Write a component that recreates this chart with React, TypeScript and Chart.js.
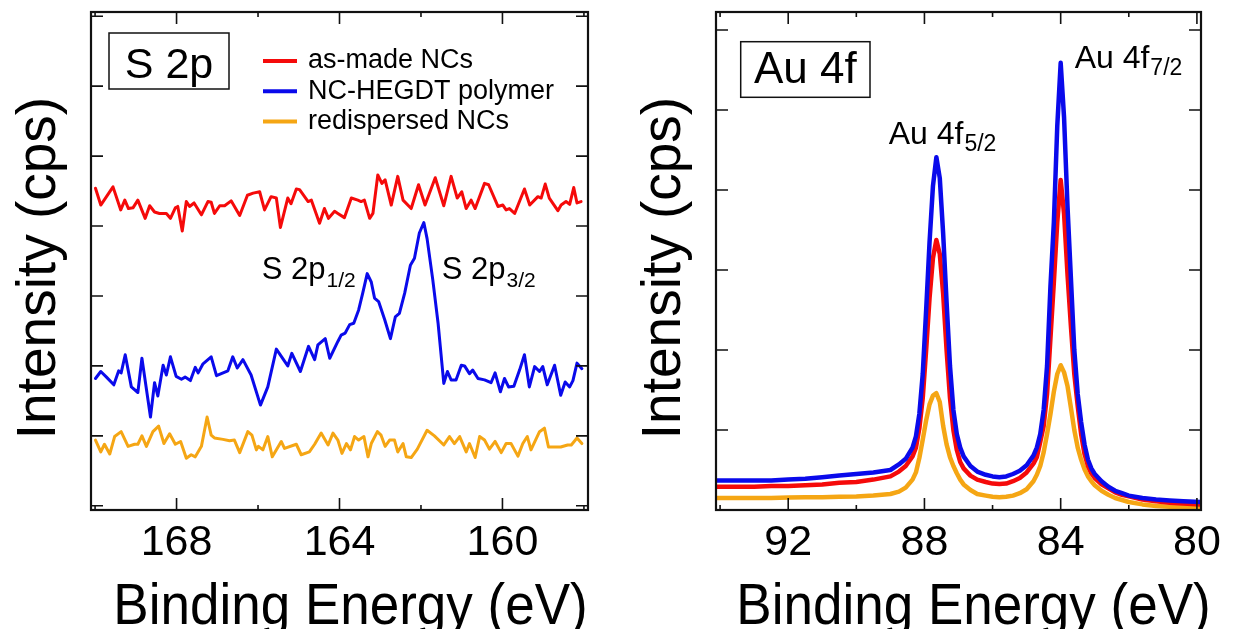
import React, { useEffect, useRef } from 'react';
import { Chart, registerables } from 'chart.js';

Chart.register(...registerables);

const FONT = '"Liberation Sans", Arial, Helvetica, sans-serif';
const RED = '#f50a0a';
const BLUE = '#0a0aeb';
const ORANGE = '#f5a614';

const X_TITLE = 'Binding Energy (eV)';
const Y_TITLE = 'Intensity (cps)';

// ---------- S 2p panel ----------
const S2P_X_TICKS = [168, 164, 160];
const S2P_X_MINOR = [170, 166, 162, 158];
const S2P_Y_TICKS = [0, 1, 2, 3, 4, 5, 6, 7];

const S_ASMADE_BE = [169.99, 169.86, 169.56, 169.37, 169.27, 169.18, 169.07, 168.95, 168.77, 168.66, 168.54, 168.42, 168.25, 168.15, 168.03, 167.97, 167.86, 167.76, 167.68, 167.57, 167.39, 167.23, 167.15, 167.07, 166.94, 166.82, 166.66, 166.45, 166.26, 166.12, 165.96, 165.84, 165.68, 165.55, 165.45, 165.27, 165.19, 165.06, 164.98, 164.77, 164.69, 164.49, 164.37, 164.27, 164.12, 164.04, 163.88, 163.71, 163.55, 163.47, 163.39, 163.26, 163.18, 163.06, 162.96, 162.88, 162.73, 162.57, 162.44, 162.24, 162.06, 161.9, 161.65, 161.44, 161.26, 161.11, 161.0, 160.89, 160.77, 160.67, 160.44, 160.34, 160.11, 159.99, 159.91, 159.83, 159.7, 159.46, 159.33, 159.13, 159.05, 158.95, 158.85, 158.64, 158.56, 158.44, 158.35, 158.25, 158.17, 158.07];
const S_ASMADE_CPS = [4.54, 4.3, 4.56, 4.23, 4.37, 4.25, 4.26, 4.37, 4.11, 4.29, 4.2, 4.18, 4.18, 4.11, 4.26, 4.28, 3.93, 4.35, 4.28, 4.33, 4.16, 4.35, 4.34, 4.18, 4.29, 4.29, 4.36, 4.15, 4.44, 4.47, 4.49, 4.23, 4.42, 4.4, 3.98, 4.4, 4.32, 4.53, 4.52, 4.35, 4.37, 4.04, 4.25, 4.11, 4.21, 4.18, 4.12, 4.4, 4.37, 4.35, 4.37, 4.11, 4.18, 4.73, 4.61, 4.66, 4.3, 4.71, 4.37, 4.25, 4.59, 4.3, 4.69, 4.29, 4.71, 4.4, 4.49, 4.25, 4.37, 4.25, 4.61, 4.59, 4.28, 4.3, 4.23, 4.25, 4.18, 4.53, 4.3, 4.42, 4.4, 4.6, 4.4, 4.22, 4.3, 4.35, 4.31, 4.55, 4.33, 4.35];

const S_POLY_BE = [169.99, 169.86, 169.72, 169.54, 169.42, 169.36, 169.26, 169.11, 168.95, 168.85, 168.64, 168.54, 168.46, 168.33, 168.25, 168.15, 168.01, 167.88, 167.79, 167.66, 167.54, 167.47, 167.35, 167.15, 167.02, 166.74, 166.62, 166.51, 166.37, 166.17, 165.94, 165.76, 165.55, 165.27, 165.17, 164.96, 164.76, 164.61, 164.53, 164.35, 164.24, 164.04, 163.96, 163.86, 163.75, 163.65, 163.53, 163.43, 163.32, 163.22, 163.14, 163.04, 162.89, 162.75, 162.63, 162.53, 162.4, 162.26, 162.16, 162.04, 161.93, 161.85, 161.71, 161.58, 161.44, 161.35, 161.26, 161.14, 161.01, 160.93, 160.81, 160.73, 160.6, 160.44, 160.28, 160.18, 160.05, 159.95, 159.85, 159.72, 159.58, 159.46, 159.34, 159.21, 159.09, 159.01, 158.9, 158.72, 158.57, 158.46, 158.35, 158.27, 158.17, 158.05];
const S_POLY_CPS = [1.82, 1.92, 1.84, 1.73, 1.93, 1.9, 2.16, 1.7, 1.62, 2.11, 1.27, 1.76, 1.57, 2.01, 1.87, 2.13, 1.85, 1.81, 1.84, 1.79, 1.98, 1.9, 2.03, 2.13, 1.86, 1.93, 2.13, 1.97, 2.09, 1.87, 1.44, 1.7, 2.24, 2.0, 2.18, 1.92, 2.28, 2.09, 2.3, 2.39, 2.11, 2.35, 2.44, 2.47, 2.59, 2.61, 2.8, 3.04, 3.32, 3.2, 2.97, 2.92, 2.66, 2.39, 2.7, 2.75, 3.04, 3.44, 3.54, 3.9, 4.05, 3.82, 3.23, 2.61, 1.75, 1.92, 1.8, 1.8, 2.01, 2.0, 1.89, 1.94, 1.82, 1.8, 1.76, 1.9, 1.63, 1.82, 1.7, 1.71, 1.94, 2.16, 1.7, 1.99, 1.92, 1.99, 1.73, 2.01, 1.58, 1.77, 1.7, 1.79, 2.04, 1.96];

const S_REDISP_BE = [169.99, 169.86, 169.77, 169.64, 169.52, 169.36, 169.19, 169.03, 168.95, 168.85, 168.74, 168.58, 168.44, 168.31, 168.17, 168.03, 167.9, 167.76, 167.64, 167.54, 167.39, 167.25, 167.15, 167.07, 166.86, 166.7, 166.58, 166.45, 166.25, 166.15, 166.04, 165.99, 165.88, 165.76, 165.65, 165.43, 165.35, 165.06, 164.94, 164.74, 164.61, 164.45, 164.28, 164.16, 164.04, 163.94, 163.83, 163.73, 163.63, 163.53, 163.4, 163.3, 163.22, 163.07, 162.98, 162.88, 162.77, 162.65, 162.57, 162.44, 162.36, 162.24, 162.09, 161.85, 161.67, 161.44, 161.3, 161.18, 161.05, 160.89, 160.81, 160.67, 160.56, 160.44, 160.32, 160.18, 160.03, 159.91, 159.79, 159.62, 159.5, 159.39, 159.3, 159.09, 158.97, 158.87, 158.72, 158.57, 158.4, 158.31, 158.17, 158.05];
const S_REDISP_CPS = [0.94, 0.77, 0.88, 0.74, 0.99, 1.06, 0.85, 0.88, 0.88, 1.0, 0.85, 1.06, 1.14, 0.89, 1.03, 0.88, 0.92, 0.68, 0.73, 0.7, 0.85, 1.27, 1.01, 0.97, 0.95, 0.93, 0.94, 0.76, 1.06, 1.01, 0.8, 0.85, 0.8, 0.99, 0.7, 0.92, 0.82, 0.88, 0.73, 0.77, 0.88, 1.04, 0.87, 1.04, 0.94, 0.75, 0.89, 0.8, 0.99, 0.94, 0.99, 0.7, 0.89, 1.06, 1.01, 0.85, 0.94, 0.94, 0.77, 0.89, 0.7, 0.69, 0.81, 1.08, 1.0, 0.87, 0.99, 0.89, 0.99, 0.77, 0.89, 0.69, 0.99, 0.94, 0.81, 0.92, 0.76, 0.89, 0.89, 0.71, 0.89, 0.99, 0.8, 1.06, 1.11, 0.84, 0.84, 0.84, 0.87, 0.87, 0.97, 0.89];

// ---------- Au 4f panel ----------
const AU_X_TICKS = [92, 88, 84, 80];
const AU_X_MINOR = [94, 90, 86, 82];
const AU_Y_TICKS = [1, 2, 3, 4, 5, 6];

const AU_BE = [94.1, 93.5, 93.0, 92.5, 92.0, 91.5, 91.0, 90.5, 90.0, 89.5, 89.0, 88.75, 88.55, 88.35, 88.25, 88.15, 88.05, 87.95, 87.85, 87.75, 87.65, 87.55, 87.45, 87.35, 87.25, 87.15, 87.05, 86.95, 86.85, 86.65, 86.45, 86.2, 86.0, 85.8, 85.6, 85.4, 85.2, 85.0, 84.8, 84.7, 84.6, 84.5, 84.4, 84.3, 84.2, 84.1, 84.0, 83.9, 83.8, 83.7, 83.6, 83.5, 83.4, 83.3, 83.2, 83.1, 83.0, 82.8, 82.6, 82.4, 82.2, 82.0, 81.6, 81.2, 80.8, 80.4, 79.9];
const AU_ASMADE = [0.29, 0.29, 0.29, 0.3, 0.3, 0.31, 0.32, 0.34, 0.35, 0.38, 0.42, 0.48, 0.55, 0.67, 0.78, 1.02, 1.4, 2.0, 2.65, 3.15, 3.375, 3.2, 2.7, 2.0, 1.4, 1.0, 0.75, 0.6, 0.52, 0.43, 0.38, 0.35, 0.33, 0.325, 0.33, 0.36, 0.4, 0.47, 0.58, 0.66, 0.85, 1.05, 1.45, 2.15, 2.85, 3.6, 4.125, 3.7, 2.95, 2.3, 1.7, 1.3, 0.95, 0.7, 0.55, 0.46, 0.4, 0.32, 0.27, 0.22, 0.19, 0.17, 0.13, 0.11, 0.09, 0.08, 0.07];
const AU_POLY = [0.37, 0.37, 0.37, 0.37, 0.38, 0.39, 0.41, 0.43, 0.45, 0.47, 0.5, 0.57, 0.64, 0.78, 0.92, 1.2, 1.7, 2.5, 3.35, 4.05, 4.41, 4.15, 3.45, 2.6, 1.8, 1.25, 0.95, 0.78, 0.67, 0.55, 0.48, 0.44, 0.42, 0.41, 0.42, 0.45, 0.49, 0.56, 0.68, 0.78, 0.95, 1.25, 1.8, 2.8, 3.6, 4.8, 5.59, 4.9, 3.8, 2.9, 2.0, 1.45, 1.1, 0.82, 0.63, 0.52, 0.45, 0.36, 0.29, 0.24, 0.21, 0.18, 0.15, 0.13, 0.12, 0.11, 0.1];
const AU_REDISP = [0.15, 0.15, 0.15, 0.15, 0.155, 0.16, 0.16, 0.165, 0.17, 0.18, 0.2, 0.23, 0.28, 0.38, 0.47, 0.65, 0.88, 1.12, 1.32, 1.43, 1.46, 1.35, 1.05, 0.82, 0.66, 0.55, 0.46, 0.38, 0.32, 0.25, 0.2, 0.18, 0.165, 0.16, 0.165, 0.18, 0.21, 0.26, 0.36, 0.44, 0.55, 0.72, 0.95, 1.2, 1.48, 1.7, 1.81, 1.72, 1.55, 1.28, 1.0, 0.78, 0.63, 0.51, 0.42, 0.36, 0.31, 0.24, 0.19, 0.15, 0.125, 0.1, 0.07, 0.05, 0.04, 0.035, 0.03];

const LEGEND_LABELS = ['as-made NCs', 'NC-HEGDT polymer', 'redispersed NCs'];

const pts = (be: number[], v: number[]) => be.map((x, i) => ({ x, y: v[i] }));

function makeFrame(cfg: { xMajor: number[]; xMinor: number[]; yTicks: number[]; major: number; minor: number }) {
  return {
    id: 'frame',
    afterDatasetsDraw(chart: any) {
      const { ctx, chartArea: a, scales } = chart;
      const x = scales.x;
      const y = scales.y;
      ctx.save();
      ctx.strokeStyle = '#111';
      ctx.lineWidth = 1.6;
      ctx.beginPath();
      const xt = (v: number, len: number) => {
        const px = x.getPixelForValue(v);
        ctx.moveTo(px, a.bottom);
        ctx.lineTo(px, a.bottom - len);
        ctx.moveTo(px, a.top);
        ctx.lineTo(px, a.top + len);
      };
      cfg.xMajor.forEach((v) => xt(v, cfg.major));
      cfg.xMinor.forEach((v) => xt(v, cfg.minor));
      cfg.yTicks.forEach((v) => {
        const py = y.getPixelForValue(v);
        ctx.moveTo(a.left, py);
        ctx.lineTo(a.left + cfg.major, py);
        ctx.moveTo(a.right, py);
        ctx.lineTo(a.right - cfg.major, py);
      });
      ctx.stroke();
      ctx.lineWidth = 2.2;
      ctx.strokeRect(a.left, a.top, a.right - a.left, a.bottom - a.top);
      ctx.restore();
    },
  };
}

// axis titles, placed like the original figure (slightly off the axis centre)
function makeTitles(cfg: { xShift: number }) {
  return {
    id: 'axisTitles',
    afterDraw(chart: any) {
      const { ctx, chartArea: a } = chart;
      ctx.save();
      ctx.fillStyle = '#000';
      ctx.textBaseline = 'alphabetic';
      ctx.textAlign = 'center';
      ctx.font = `53px ${FONT}`;
      ctx.save();
      ctx.translate((a.left + a.right) / 2 + cfg.xShift, a.bottom + 113.5);
      ctx.scale(1, 1.08);
      ctx.fillText(X_TITLE, 0, 0);
      ctx.restore();
      ctx.translate(a.left - 36, 268);
      ctx.rotate(-Math.PI / 2);
      ctx.font = `55px ${FONT}`;
      ctx.fillText(Y_TITLE, 0, 0);
      ctx.restore();
    },
  };
}

function drawBox(ctx: CanvasRenderingContext2D, x: number, y: number, w: number, h: number, text: string, size: number, base: number) {
  ctx.save();
  ctx.strokeStyle = '#111';
  ctx.lineWidth = 1.5;
  ctx.strokeRect(x, y, w, h);
  ctx.fillStyle = '#000';
  ctx.font = `${size}px ${FONT}`;
  ctx.textAlign = 'center';
  ctx.textBaseline = 'alphabetic';
  ctx.fillText(text, x + w / 2, y + base);
  ctx.restore();
}

function subLabel(ctx: CanvasRenderingContext2D, x: number, y: number, main: string, sub: string, size: number, subSize: number, drop: number) {
  ctx.save();
  ctx.fillStyle = '#000';
  ctx.textAlign = 'left';
  ctx.textBaseline = 'alphabetic';
  ctx.font = `${size}px ${FONT}`;
  ctx.fillText(main, x, y);
  const w = ctx.measureText(main).width;
  ctx.font = `${subSize}px ${FONT}`;
  ctx.fillText(sub, x + w + 1, y + drop);
  ctx.restore();
}

function xScale(min: number, max: number, major: number[]) {
  return {
    type: 'linear',
    reverse: true,
    min,
    max,
    afterBuildTicks: (s: any) => {
      s.ticks = major.map((v) => ({ value: v }));
    },
    afterFit: (s: any) => {
      s.height = 119;
    },
    grid: { display: false, drawTicks: false },
    border: { display: false },
    ticks: { color: '#000', font: { family: FONT, size: 43 }, padding: 7, maxRotation: 0, minRotation: 0, autoSkip: false },
    title: { display: false, text: X_TITLE },
  };
}

function yScale(min: number, max: number) {
  return {
    type: 'linear',
    min,
    max,
    afterFit: (s: any) => {
      s.width = 91;
    },
    grid: { display: false, drawTicks: false },
    border: { display: false },
    ticks: { display: false },
    title: { display: false, text: Y_TITLE },
  };
}

function baseOptions(xs: any, ys: any, padRight: number) {
  return {
    responsive: false,
    animation: false,
    events: [],
    layout: { padding: { left: 0, right: padRight, top: 12, bottom: 0 } },
    plugins: { legend: { display: false }, tooltip: { enabled: false } },
    elements: { point: { radius: 0 }, line: { tension: 0, borderJoinStyle: 'round', borderCapStyle: 'round' } },
    scales: { x: xs, y: ys },
  };
}

function s2pConfig(): any {
  const decor = {
    id: 's2pDecor',
    afterDraw(chart: any) {
      const { ctx, chartArea: a, scales } = chart;
      drawBox(ctx, a.left + 18, a.top + 21, 120, 56, 'S 2p', 43, 45);
      ctx.save();
      chart.data.datasets.forEach((ds: any, i: number) => {
        const yy = a.top + 49 + i * 30.3;
        ctx.strokeStyle = ds.borderColor;
        ctx.lineWidth = 4;
        ctx.beginPath();
        ctx.moveTo(a.left + 172, yy);
        ctx.lineTo(a.left + 206, yy);
        ctx.stroke();
        ctx.fillStyle = '#000';
        ctx.font = `27px ${FONT}`;
        ctx.textAlign = 'left';
        ctx.textBaseline = 'middle';
        ctx.fillText(ds.label, a.left + 217, yy);
      });
      ctx.restore();
      subLabel(ctx, scales.x.getPixelForValue(165.91), scales.y.getPixelForValue(3.24), 'S 2p', '1/2', 31, 21, 8);
      subLabel(ctx, scales.x.getPixelForValue(161.49), scales.y.getPixelForValue(3.24), 'S 2p', '3/2', 31, 21, 8);
    },
  };
  return {
    type: 'line',
    data: {
      datasets: [
        { label: LEGEND_LABELS[0], data: pts(S_ASMADE_BE, S_ASMADE_CPS), borderColor: RED, borderWidth: 3, pointRadius: 0, fill: false },
        { label: LEGEND_LABELS[1], data: pts(S_POLY_BE, S_POLY_CPS), borderColor: BLUE, borderWidth: 3, pointRadius: 0, fill: false },
        { label: LEGEND_LABELS[2], data: pts(S_REDISP_BE, S_REDISP_CPS), borderColor: ORANGE, borderWidth: 3, pointRadius: 0, fill: false },
      ],
    },
    options: baseOptions(xScale(157.9, 170.1, S2P_X_TICKS), yScale(-0.06, 7.06), 32),
    plugins: [makeFrame({ xMajor: S2P_X_TICKS, xMinor: S2P_X_MINOR, yTicks: S2P_Y_TICKS, major: 12, minor: 5 }), makeTitles({ xShift: 11 }), decor],
  };
}

function au4fConfig(): any {
  const decor = {
    id: 'auDecor',
    afterDraw(chart: any) {
      const { ctx, chartArea: a, scales } = chart;
      drawBox(ctx, a.left + 24.7, a.top + 29.7, 129.3, 55.6, 'Au 4f', 44, 41.6);
      subLabel(ctx, scales.x.getPixelForValue(89.05), scales.y.getPixelForValue(4.58), 'Au 4f', '5/2', 32, 23, 7);
      subLabel(ctx, scales.x.getPixelForValue(83.59), scales.y.getPixelForValue(5.52), 'Au 4f', '7/2', 32, 23, 7);
    },
  };
  return {
    type: 'line',
    data: {
      datasets: [
        { label: LEGEND_LABELS[1], data: pts(AU_BE, AU_POLY), borderColor: BLUE, borderWidth: 4.5, pointRadius: 0, fill: false },
        { label: LEGEND_LABELS[0], data: pts(AU_BE, AU_ASMADE), borderColor: RED, borderWidth: 4.5, pointRadius: 0, fill: false },
        { label: LEGEND_LABELS[2], data: pts(AU_BE, AU_REDISP), borderColor: ORANGE, borderWidth: 4.5, pointRadius: 0, fill: false },
      ],
    },
    options: baseOptions(xScale(79.88, 94.12, AU_X_TICKS), yScale(0, 6.225), 35),
    plugins: [makeFrame({ xMajor: AU_X_TICKS, xMinor: AU_X_MINOR, yTicks: AU_Y_TICKS, major: 12, minor: 5 }), makeTitles({ xShift: 15 }), decor],
  };
}

function Panel({ left, width, build }: { left: number; width: number; build: () => any }) {
  const ref = useRef<HTMLCanvasElement>(null);
  useEffect(() => {
    const chart = new Chart(ref.current as HTMLCanvasElement, build());
    return () => chart.destroy();
  }, [build]);
  return (
    <canvas
      ref={ref}
      width={width}
      height={629}
      style={{ position: 'absolute', left, top: 0, width, height: 629, display: 'block' }}
    />
  );
}

export default function App() {
  return (
    <div style={{ position: 'fixed', left: 0, top: 0, width: 1236, height: 629, background: '#fff', overflow: 'hidden' }}>
      <Panel left={0} width={620} build={s2pConfig} />
      <Panel left={625} width={611} build={au4fConfig} />
    </div>
  );
}
